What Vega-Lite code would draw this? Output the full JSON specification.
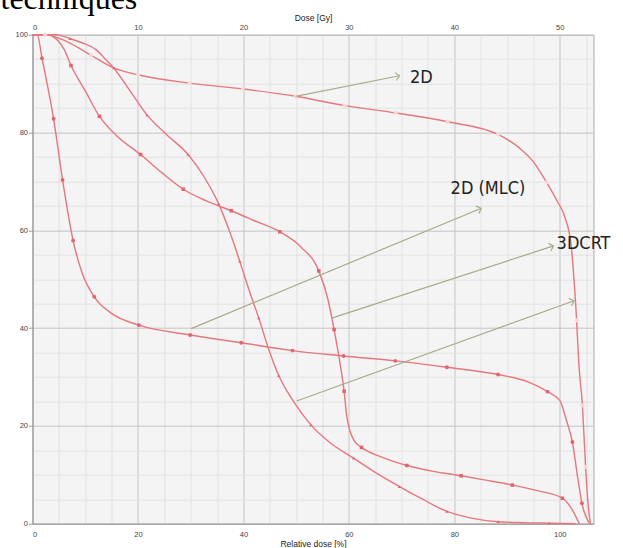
{
  "$schema": "https://vega.github.io/schema/vega-lite/v6.json",
  "width": 561,
  "height": 489,
  "autosize": "none",
  "padding": {"left": 32.5, "top": 34.7, "right": 30, "bottom": 25},
  "background": "white",
  "config": {
    "view": {"fill": "#f4f4f4", "stroke": "#a8a8a8", "strokeWidth": 1},
    "axis": {"labelFont": "Liberation Sans", "titleFont": "Liberation Sans", "labelFontSize": 7.5, "titleFontSize": 8.5, "titleFontWeight": "normal", "labelColor": "#444", "titleColor": "#222"}
  },
  "title": {"text": "techniques", "font": "Liberation Serif", "fontSize": 32, "fontWeight": "normal", "color": "#000", "anchor": "start", "frame": "group", "baseline": "alphabetic", "offset": 0, "dx": -32, "dy": 27},
  "datasets": {
    "curves": [
      {"series": "2D", "pct": 0, "vol": 100}, {"series": "2D", "pct": 2.4, "vol": 100}, {"series": "2D", "pct": 6.5, "vol": 98.6}, {"series": "2D", "pct": 11.1, "vol": 95.8}, {"series": "2D", "pct": 15.4, "vol": 93.2}, {"series": "2D", "pct": 20, "vol": 91.8}, {"series": "2D", "pct": 29.8, "vol": 90.1}, {"series": "2D", "pct": 39.9, "vol": 88.9}, {"series": "2D", "pct": 49.9, "vol": 87.4}, {"series": "2D", "pct": 59.2, "vol": 85.5}, {"series": "2D", "pct": 68.9, "vol": 84}, {"series": "2D", "pct": 78.7, "vol": 82.2}, {"series": "2D", "pct": 88.3, "vol": 79.6}, {"series": "2D", "pct": 92.4, "vol": 76.8}, {"series": "2D", "pct": 95, "vol": 74}, {"series": "2D", "pct": 97.5, "vol": 69.8}, {"series": "2D", "pct": 99.5, "vol": 66}, {"series": "2D", "pct": 101, "vol": 62.6}, {"series": "2D", "pct": 102.2, "vol": 56.6}, {"series": "2D", "pct": 102.7, "vol": 50}, {"series": "2D", "pct": 103.2, "vol": 41.6}, {"series": "2D", "pct": 103.6, "vol": 33}, {"series": "2D", "pct": 104.3, "vol": 24.2}, {"series": "2D", "pct": 104.9, "vol": 11.6}, {"series": "2D", "pct": 105.3, "vol": 5}, {"series": "2D", "pct": 105.8, "vol": 0},
      {"series": "2D (MLC)", "pct": 0, "vol": 100}, {"series": "2D (MLC)", "pct": 0.9, "vol": 100}, {"series": "2D (MLC)", "pct": 1.8, "vol": 95.2}, {"series": "2D (MLC)", "pct": 4.0, "vol": 82.8}, {"series": "2D (MLC)", "pct": 5.7, "vol": 70.3}, {"series": "2D (MLC)", "pct": 7.7, "vol": 57.9}, {"series": "2D (MLC)", "pct": 9.5, "vol": 51}, {"series": "2D (MLC)", "pct": 11.7, "vol": 46.4}, {"series": "2D (MLC)", "pct": 15, "vol": 43}, {"series": "2D (MLC)", "pct": 20.2, "vol": 40.6}, {"series": "2D (MLC)", "pct": 29.9, "vol": 38.6}, {"series": "2D (MLC)", "pct": 39.6, "vol": 37}, {"series": "2D (MLC)", "pct": 49.3, "vol": 35.4}, {"series": "2D (MLC)", "pct": 59, "vol": 34.3}, {"series": "2D (MLC)", "pct": 68.8, "vol": 33.3}, {"series": "2D (MLC)", "pct": 78.6, "vol": 32}, {"series": "2D (MLC)", "pct": 88.3, "vol": 30.5}, {"series": "2D (MLC)", "pct": 94, "vol": 29}, {"series": "2D (MLC)", "pct": 97.7, "vol": 27}, {"series": "2D (MLC)", "pct": 100, "vol": 25.2}, {"series": "2D (MLC)", "pct": 101.3, "vol": 21}, {"series": "2D (MLC)", "pct": 102.4, "vol": 16.7}, {"series": "2D (MLC)", "pct": 103.4, "vol": 9.5}, {"series": "2D (MLC)", "pct": 104.2, "vol": 4.2}, {"series": "2D (MLC)", "pct": 105.7, "vol": 0},
      {"series": "3DCRT", "pct": 0, "vol": 100}, {"series": "3DCRT", "pct": 3, "vol": 100}, {"series": "3DCRT", "pct": 4.8, "vol": 98.8}, {"series": "3DCRT", "pct": 6, "vol": 97}, {"series": "3DCRT", "pct": 7.3, "vol": 93.7}, {"series": "3DCRT", "pct": 10, "vol": 88.5}, {"series": "3DCRT", "pct": 12.7, "vol": 83.3}, {"series": "3DCRT", "pct": 16, "vol": 79.3}, {"series": "3DCRT", "pct": 20.5, "vol": 75.5}, {"series": "3DCRT", "pct": 24.5, "vol": 71.8}, {"series": "3DCRT", "pct": 28.6, "vol": 68.4}, {"series": "3DCRT", "pct": 33, "vol": 66}, {"series": "3DCRT", "pct": 37.7, "vol": 64}, {"series": "3DCRT", "pct": 42, "vol": 62}, {"series": "3DCRT", "pct": 46.9, "vol": 59.7}, {"series": "3DCRT", "pct": 51, "vol": 56.5}, {"series": "3DCRT", "pct": 54.3, "vol": 51.7}, {"series": "3DCRT", "pct": 56, "vol": 46}, {"series": "3DCRT", "pct": 57.2, "vol": 39.7}, {"series": "3DCRT", "pct": 58.3, "vol": 33}, {"series": "3DCRT", "pct": 59.1, "vol": 27.1}, {"series": "3DCRT", "pct": 59.6, "vol": 22}, {"series": "3DCRT", "pct": 60.2, "vol": 19}, {"series": "3DCRT", "pct": 61, "vol": 17}, {"series": "3DCRT", "pct": 62.4, "vol": 15.6}, {"series": "3DCRT", "pct": 66, "vol": 13.7}, {"series": "3DCRT", "pct": 71, "vol": 11.9}, {"series": "3DCRT", "pct": 76, "vol": 10.7}, {"series": "3DCRT", "pct": 81.3, "vol": 9.8}, {"series": "3DCRT", "pct": 86, "vol": 8.9}, {"series": "3DCRT", "pct": 91, "vol": 7.9}, {"series": "3DCRT", "pct": 96, "vol": 6.7}, {"series": "3DCRT", "pct": 100.5, "vol": 5.2}, {"series": "3DCRT", "pct": 102, "vol": 3.5}, {"series": "3DCRT", "pct": 103.7, "vol": 0},
      {"series": "D", "pct": 0, "vol": 100}, {"series": "D", "pct": 4.5, "vol": 100}, {"series": "D", "pct": 7.1, "vol": 99.2}, {"series": "D", "pct": 9.5, "vol": 98.3}, {"series": "D", "pct": 12.1, "vol": 96.9}, {"series": "D", "pct": 14, "vol": 94.8}, {"series": "D", "pct": 15.4, "vol": 93.2}, {"series": "D", "pct": 18.5, "vol": 88.5}, {"series": "D", "pct": 21.7, "vol": 83.6}, {"series": "D", "pct": 25.5, "vol": 79.5}, {"series": "D", "pct": 29.5, "vol": 75.5}, {"series": "D", "pct": 32.5, "vol": 71}, {"series": "D", "pct": 35.3, "vol": 65.4}, {"series": "D", "pct": 37.3, "vol": 60}, {"series": "D", "pct": 39.3, "vol": 53.7}, {"series": "D", "pct": 41, "vol": 48}, {"series": "D", "pct": 42.9, "vol": 42.1}, {"series": "D", "pct": 44.7, "vol": 36}, {"series": "D", "pct": 46.7, "vol": 30.3}, {"series": "D", "pct": 49.5, "vol": 25}, {"series": "D", "pct": 52.8, "vol": 20.2}, {"series": "D", "pct": 56.5, "vol": 16.5}, {"series": "D", "pct": 60.9, "vol": 13.4}, {"series": "D", "pct": 65, "vol": 10.5}, {"series": "D", "pct": 69.6, "vol": 7.6}, {"series": "D", "pct": 74, "vol": 5}, {"series": "D", "pct": 78.6, "vol": 2.5}, {"series": "D", "pct": 83, "vol": 1.2}, {"series": "D", "pct": 88.3, "vol": 0.4}, {"series": "D", "pct": 93, "vol": 0.2}, {"series": "D", "pct": 98, "vol": 0.1}, {"series": "D", "pct": 103, "vol": 0}
    ],
    "markers": [
      {"series": "2D", "pct": 2.4, "vol": 100}, {"series": "2D", "pct": 11.1, "vol": 95.8}, {"series": "2D", "pct": 20, "vol": 91.8}, {"series": "2D", "pct": 29.8, "vol": 90.1}, {"series": "2D", "pct": 39.9, "vol": 88.9}, {"series": "2D", "pct": 49.9, "vol": 87.4}, {"series": "2D", "pct": 59.2, "vol": 85.5}, {"series": "2D", "pct": 68.9, "vol": 84}, {"series": "2D", "pct": 78.7, "vol": 82.2}, {"series": "2D", "pct": 88.3, "vol": 79.6}, {"series": "2D", "pct": 97.5, "vol": 69.8}, {"series": "2D", "pct": 103.2, "vol": 41.6}, {"series": "2D", "pct": 104.3, "vol": 24.2}, {"series": "2D", "pct": 104.9, "vol": 11.6},
      {"series": "2D (MLC)", "pct": 1.8, "vol": 95.2}, {"series": "2D (MLC)", "pct": 4.0, "vol": 82.8}, {"series": "2D (MLC)", "pct": 5.7, "vol": 70.3}, {"series": "2D (MLC)", "pct": 7.7, "vol": 57.9}, {"series": "2D (MLC)", "pct": 11.7, "vol": 46.4}, {"series": "2D (MLC)", "pct": 20.2, "vol": 40.6}, {"series": "2D (MLC)", "pct": 29.9, "vol": 38.6}, {"series": "2D (MLC)", "pct": 39.6, "vol": 37}, {"series": "2D (MLC)", "pct": 49.3, "vol": 35.4}, {"series": "2D (MLC)", "pct": 59, "vol": 34.3}, {"series": "2D (MLC)", "pct": 68.8, "vol": 33.3}, {"series": "2D (MLC)", "pct": 78.6, "vol": 32}, {"series": "2D (MLC)", "pct": 88.3, "vol": 30.5}, {"series": "2D (MLC)", "pct": 97.7, "vol": 27}, {"series": "2D (MLC)", "pct": 102.4, "vol": 16.7}, {"series": "2D (MLC)", "pct": 104.2, "vol": 4.2},
      {"series": "3DCRT", "pct": 7.3, "vol": 93.7}, {"series": "3DCRT", "pct": 12.7, "vol": 83.3}, {"series": "3DCRT", "pct": 20.5, "vol": 75.5}, {"series": "3DCRT", "pct": 28.6, "vol": 68.4}, {"series": "3DCRT", "pct": 37.7, "vol": 64}, {"series": "3DCRT", "pct": 46.9, "vol": 59.7}, {"series": "3DCRT", "pct": 54.3, "vol": 51.7}, {"series": "3DCRT", "pct": 57.2, "vol": 39.7}, {"series": "3DCRT", "pct": 59.1, "vol": 27.1}, {"series": "3DCRT", "pct": 62.4, "vol": 15.6}, {"series": "3DCRT", "pct": 71, "vol": 11.9}, {"series": "3DCRT", "pct": 81.3, "vol": 9.8}, {"series": "3DCRT", "pct": 91, "vol": 7.9}, {"series": "3DCRT", "pct": 100.5, "vol": 5.2},
      {"series": "D", "pct": 7.1, "vol": 99.2}, {"series": "D", "pct": 15.4, "vol": 93.2}, {"series": "D", "pct": 21.7, "vol": 83.6}, {"series": "D", "pct": 29.5, "vol": 75.5}, {"series": "D", "pct": 35.3, "vol": 65.4}, {"series": "D", "pct": 39.3, "vol": 53.7}, {"series": "D", "pct": 42.9, "vol": 42.1}, {"series": "D", "pct": 46.7, "vol": 30.3}, {"series": "D", "pct": 52.8, "vol": 20.2}, {"series": "D", "pct": 60.9, "vol": 13.4}, {"series": "D", "pct": 69.6, "vol": 7.6}, {"series": "D", "pct": 78.6, "vol": 2.5}, {"series": "D", "pct": 88.3, "vol": 0.4}, {"series": "D", "pct": 98, "vol": 0.1}
    ],
    "arrows": [
      {"pct": 69.6, "vol": 91.6, "pct2": 49.9, "vol2": 87.4},
      {"pct": 85.1, "vol": 64.5, "pct2": 30.1, "vol2": 39.9},
      {"pct": 98.8, "vol": 56.8, "pct2": 56.6, "vol2": 42},
      {"pct": 102.7, "vol": 45.6, "pct2": 50.1, "vol2": 25.1}
    ],
    "labels": [
      {"label": "2D", "pct": 71.6, "vol": 91.2},
      {"label": "2D (MLC)", "pct": 79.3, "vol": 68.4},
      {"label": "3DCRT", "pct": 99.4, "vol": 57.2}
    ],
    "doseAxis": [{"dose": 0}, {"dose": 53.2}]
  },
  "layer": [
    {
      "data": {"name": "doseAxis"},
      "mark": {"type": "rule", "opacity": 0},
      "encoding": {
        "x": {"field": "dose", "type": "quantitative", "scale": {"domain": [0, 53.2], "nice": false, "zero": false},
          "axis": {"orient": "top", "title": "Dose [Gy]", "values": [0, 10, 20, 30, 40, 50], "grid": false, "ticks": false, "domain": false, "tickSize": 0, "labelPadding": 3, "titlePadding": 1}}
      }
    },
    {
      "encoding": {
        "x": {"field": "pct", "type": "quantitative", "scale": {"domain": [0, 106.4], "nice": false, "zero": false},
          "axis": {"orient": "bottom", "title": "Relative dose [%]",
            "values": [0, 5, 10, 15, 20, 25, 30, 35, 40, 45, 50, 55, 60, 65, 70, 75, 80, 85, 90, 95, 100, 105],
            "labelExpr": "datum.value % 20 === 0 ? datum.label : ''",
            "grid": true,
            "gridColor": {"condition": {"test": "datum.value % 20 === 0", "value": "#c4c4c4"}, "value": "#e2e2e2"},
            "gridWidth": 1,
            "ticks": false, "tickSize": 0, "labelPadding": 7, "titlePadding": 1,
            "domain": true, "domainColor": "#999"}},
        "y": {"field": "vol", "type": "quantitative", "scale": {"domain": [0, 100], "nice": false, "zero": false},
          "axis": {"title": null,
            "values": [0, 5, 10, 15, 20, 25, 30, 35, 40, 45, 50, 55, 60, 65, 70, 75, 80, 85, 90, 95, 100],
            "labelExpr": "datum.value % 20 === 0 ? datum.label : ''",
            "grid": true,
            "gridColor": {"condition": {"test": "datum.value % 20 === 0", "value": "#c4c4c4"}, "value": "#e2e2e2"},
            "gridWidth": 1,
            "ticks": true, "tickSize": 4, "tickColor": "#999",
            "tickOpacity": {"condition": {"test": "datum.value % 20 === 0", "value": 1}, "value": 0},
            "labelPadding": 1, "domain": true, "domainColor": "#999"}}
      },
      "layer": [
        {
          "data": {"name": "curves"},
          "mark": {"type": "line", "interpolate": "monotone", "color": "#e6777d", "strokeWidth": 1.4},
          "encoding": {
            "detail": {"field": "series", "type": "nominal"}
          }
        },
        {
          "data": {"name": "markers"},
          "mark": {"type": "point", "filled": true, "opacity": 1},
          "encoding": {
            "shape": {"field": "series", "type": "nominal", "legend": null, "scale": {"domain": ["2D", "2D (MLC)", "3DCRT", "D"], "range": ["circle", "circle", "square", "triangle-up"]}},
            "color": {"field": "series", "type": "nominal", "legend": null, "scale": {"domain": ["2D", "2D (MLC)", "3DCRT", "D"], "range": ["#f7d9da", "#e2646c", "#e2646c", "#e2646c"]}},
            "size": {"field": "series", "type": "nominal", "legend": null, "scale": {"domain": ["2D", "2D (MLC)", "3DCRT", "D"], "range": [18, 10, 20, 30]}}
          }
        },
        {
          "data": {"name": "arrows"},
          "mark": {"type": "rule", "color": "#a9a98c", "strokeWidth": 1.2},
          "encoding": {
            "x2": {"field": "pct2"},
            "y2": {"field": "vol2"}
          }
        },
        {
          "data": {"name": "arrows"},
          "transform": [{"calculate": "atan2(-(datum.vol - datum.vol2) * 4.886, (datum.pct - datum.pct2) * 5.272) * 180 / PI", "as": "ang"}],
          "mark": {"type": "point", "shape": "M-1,-1L0,0L-1,1", "filled": false, "color": "#a9a98c", "strokeWidth": 1.2, "size": 64, "opacity": 1},
          "encoding": {
            "angle": {"field": "ang", "type": "quantitative", "scale": null}
          }
        },
        {
          "data": {"name": "labels"},
          "mark": {"type": "text", "align": "left", "baseline": "middle", "font": "Liberation Sans Narrow, DejaVu Sans Condensed, sans-serif", "fontSize": 18, "color": "#222"},
          "encoding": {
            "text": {"field": "label", "type": "nominal"}
          }
        }
      ]
    }
  ],
  "resolve": {"scale": {"x": "independent"}}
}
